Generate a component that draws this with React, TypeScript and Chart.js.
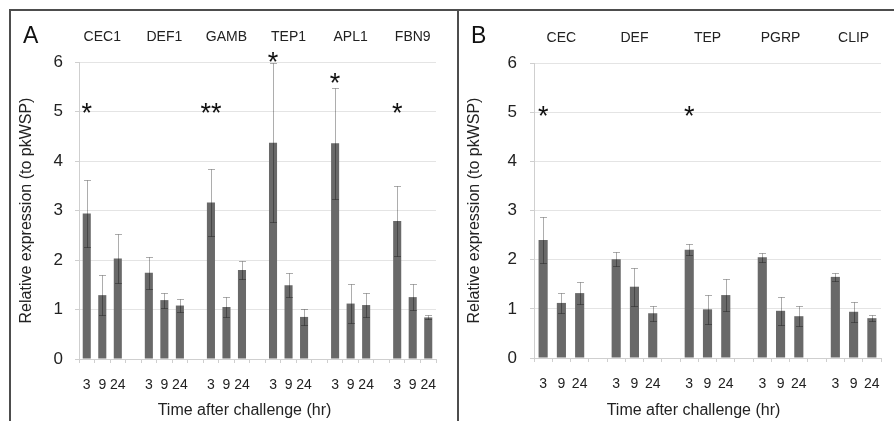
import React, { useEffect, useRef } from 'react';
import { Chart, registerables } from 'chart.js';

Chart.register(...registerables);

const FONT = '"Liberation Sans", Arial, Helvetica, sans-serif';

// ---------------- data ----------------
const timeLabels = ['3', '9', '24'];
const xTitle = 'Time after challenge (hr)';
const yTitle = 'Relative expression (to pkWSP)';
const yMin = 0;
const yMax = 6;

const genesA = ['CEC1', 'DEF1', 'GAMB', 'TEP1', 'APL1', 'FBN9'];
const meansA = [
  [2.94, 1.29, 2.03],
  [1.74, 1.19, 1.08],
  [3.16, 1.05, 1.8],
  [4.37, 1.49, 0.85],
  [4.36, 1.12, 1.09],
  [2.79, 1.25, 0.84],
];
const errorsA = [
  [0.68, 0.41, 0.5],
  [0.33, 0.15, 0.13],
  [0.67, 0.2, 0.18],
  [1.6, 0.24, 0.16],
  [1.12, 0.4, 0.24],
  [0.7, 0.27, 0.04],
];
const starsA = ['*', '', '**', '*', '*', '*'];
const starLevelsA = [5.08, 0, 5.08, 6.1, 5.67, 5.08];

const genesB = ['CEC', 'DEF', 'TEP', 'PGRP', 'CLIP'];
const meansB = [
  [2.4, 1.12, 1.32],
  [2.01, 1.45, 0.91],
  [2.2, 0.99, 1.28],
  [2.05, 0.96, 0.85],
  [1.65, 0.94, 0.81],
];
const errorsB = [
  [0.46, 0.2, 0.23],
  [0.14, 0.39, 0.15],
  [0.11, 0.3, 0.32],
  [0.09, 0.28, 0.2],
  [0.08, 0.2, 0.06],
];
const starsB = ['*', '', '*', '', ''];
const starLevelsB = [5.02, 0, 5.02, 0, 0];

// ---------------- helpers ----------------
function buildSlots(genes: string[], means: number[][], errors: number[][]) {
  const bottom: string[] = [];
  const top: string[] = [];
  const values: (number | null)[] = [];
  const errs: (number | null)[] = [];
  genes.forEach((g, gi) => {
    timeLabels.forEach((t, ti) => {
      bottom.push(t);
      top.push(ti === 1 ? g : '');
      values.push(means[gi][ti]);
      errs.push(errors[gi][ti]);
    });
    if (gi < genes.length - 1) {
      bottom.push('');
      top.push('');
      values.push(null);
      errs.push(null);
    }
  });
  return { bottom, top, values, errs };
}

type PanelSpec = {
  letter: string;
  genes: string[];
  means: number[][];
  errors: number[][];
  stars: string[];
  starLevels: number[];
  canvasLeft: number;
  width: number;
  height: number;
  chartLeft: number;
  chartRight: number;
  chartTop: number;
  chartBottom: number;
  barPct: number;
  yTitlePad: number;
  yTickPad: number;
  letterX: number;
  xTitleShift: number;
};

const H = 421;

const panelA: PanelSpec = {
  letter: 'A',
  genes: genesA,
  means: meansA,
  errors: errorsA,
  stars: starsA,
  starLevels: starLevelsA,
  canvasLeft: 0,
  width: 457,
  height: H,
  chartLeft: 79,
  chartRight: 436,
  chartTop: 62,
  chartBottom: 359,
  barPct: 0.52,
  yTitlePad: 17,
  yTickPad: 12,
  letterX: 23,
  xTitleShift: -13,
};

const panelB: PanelSpec = {
  letter: 'B',
  genes: genesB,
  means: meansB,
  errors: errorsB,
  stars: starsB,
  starLevels: starLevelsB,
  canvasLeft: 457,
  width: 437,
  height: H,
  chartLeft: 77,
  chartRight: 426,
  chartTop: 63,
  chartBottom: 358,
  barPct: 0.5,
  yTitlePad: 8.4,
  yTickPad: 13,
  letterX: 14,
  xTitleShift: -14,
};

function Panel({ spec }: { spec: PanelSpec }) {
  const ref = useRef<HTMLCanvasElement | null>(null);

  useEffect(() => {
    if (!ref.current) return;
    const slots = buildSlots(spec.genes, spec.means, spec.errors);

    const overlay = {
      id: 'overlay' + spec.letter,
      afterDatasetsDraw(chart: any) {
        const ctx = chart.ctx;
        const y = chart.scales.y;
        const meta = chart.getDatasetMeta(0);
        ctx.save();
        ctx.strokeStyle = 'rgba(0,0,0,0.32)';
        ctx.lineWidth = 1;
        slots.values.forEach((v, i) => {
          const e = slots.errs[i];
          if (v == null || e == null) return;
          const bar = meta.data[i];
          const x = Math.round(bar.x) + 0.5;
          const yt = Math.round(y.getPixelForValue(v + e)) + 0.5;
          const yb = Math.round(y.getPixelForValue(v - e)) + 0.5;
          ctx.beginPath();
          ctx.moveTo(x, yt);
          ctx.lineTo(x, yb);
          ctx.moveTo(x - 3.5, yt);
          ctx.lineTo(x + 3.5, yt);
          ctx.moveTo(x - 3.5, yb);
          ctx.lineTo(x + 3.5, yb);
          ctx.stroke();
        });
        ctx.restore();
      },
      afterDraw(chart: any) {
        const ctx = chart.ctx;
        const xs = chart.scales.x;
        const ys = chart.scales.y;
        const area = chart.chartArea;
        ctx.save();
        // significance stars
        ctx.fillStyle = '#111';
        ctx.font = `27px ${FONT}`;
        ctx.textAlign = 'center';
        ctx.textBaseline = 'alphabetic';
        spec.stars.forEach((s, gi) => {
          if (!s) return;
          const px = xs.getPixelForValue(gi * 4);
          const target = ys.getPixelForValue(spec.starLevels[gi]);
          const m = ctx.measureText(s);
          const py = target + (m.actualBoundingBoxAscent - m.actualBoundingBoxDescent) / 2;
          ctx.fillText(s, px, py);
        });
        // panel letter
        ctx.font = `23px ${FONT}`;
        ctx.textAlign = 'left';
        ctx.fillStyle = '#111';
        ctx.fillText(spec.letter, spec.letterX, 43);
        // x title
        ctx.font = `16px ${FONT}`;
        ctx.textAlign = 'center';
        ctx.fillStyle = '#222';
        ctx.fillText(xTitle, (area.left + area.right) / 2 + spec.xTitleShift, 415);
        ctx.restore();
      },
    };

    const chart = new Chart(ref.current, {
      type: 'bar',
      data: {
        labels: slots.bottom,
        datasets: [
          {
            data: slots.values as any,
            backgroundColor: '#696969',
            borderWidth: 0,
            categoryPercentage: 1,
            barPercentage: spec.barPct,
          },
        ],
      },
      options: {
        responsive: false,
        animation: false,
        events: [],
        layout: { padding: { left: 0, right: spec.width - spec.chartRight, top: 0, bottom: 0 } },
        plugins: {
          legend: { display: false },
          tooltip: { enabled: false },
          title: { display: false },
        },
        scales: {
          x: {
            type: 'category',
            position: 'bottom',
            offset: true,
            grid: {
              offset: true,
              drawOnChartArea: false,
              drawTicks: true,
              tickLength: 4,
              tickColor: '#cfcfcf',
            },
            border: { display: true, color: '#cfcfcf' },
            ticks: {
              autoSkip: false,
              maxRotation: 0,
              minRotation: 0,
              padding: 14,
              color: '#222',
              font: { family: FONT, size: 14 },
            },
            afterFit(scale: any) {
              scale.height = spec.height - spec.chartBottom;
            },
          },
          xTop: {
            type: 'category',
            position: 'top',
            labels: slots.top,
            offset: true,
            grid: { display: false, drawTicks: false },
            border: { display: false },
            ticks: {
              autoSkip: false,
              maxRotation: 0,
              minRotation: 0,
              padding: 16,
              color: '#222',
              font: { family: FONT, size: 14 },
            },
            afterFit(scale: any) {
              scale.height = spec.chartTop;
            },
          },
          y: {
            type: 'linear',
            min: yMin,
            max: yMax,
            position: 'left',
            grid: {
              color: '#e4e4e4',
              tickColor: '#cfcfcf',
              tickLength: 4,
            },
            border: { display: true, color: '#cfcfcf' },
            ticks: {
              stepSize: 1,
              padding: spec.yTickPad,
              color: '#222',
              font: { family: FONT, size: 17 },
            },
            title: {
              display: true,
              text: yTitle,
              color: '#222',
              font: { family: FONT, size: 16 },
              padding: { top: spec.yTitlePad, bottom: 0 },
            },
            afterFit(scale: any) {
              scale.width = spec.chartLeft;
            },
          },
        },
      } as any,
      plugins: [overlay],
    });
    return () => chart.destroy();
  }, [spec]);

  return (
    <canvas
      ref={ref}
      width={spec.width}
      height={spec.height}
      style={{ position: 'absolute', left: spec.canvasLeft, top: 0, width: spec.width, height: spec.height }}
    />
  );
}

export default function App() {
  const line = '#4d4d4d';
  return (
    <div style={{ position: 'absolute', left: 0, top: 0, width: 894, height: 421, background: '#fff', overflow: 'hidden' }}>
      <Panel spec={panelA} />
      <Panel spec={panelB} />
      <div style={{ position: 'absolute', left: 9, top: 9, width: 885, height: 2, background: line }} />
      <div style={{ position: 'absolute', left: 9, top: 9, width: 2, height: 412, background: line }} />
      <div style={{ position: 'absolute', left: 457, top: 9, width: 2, height: 412, background: line }} />
    </div>
  );
}
